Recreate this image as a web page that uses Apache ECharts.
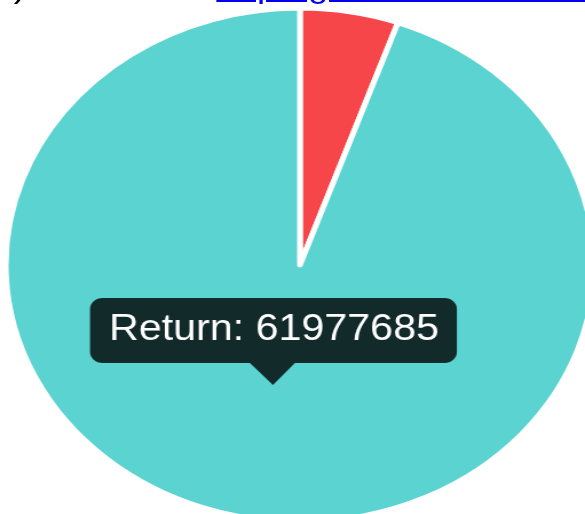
<!DOCTYPE html>
<html>
<head>
<meta charset="utf-8">
<script src="https://cdn.jsdelivr.net/npm/echarts@6/dist/echarts.min.js"></script>
<style>
  html, body { margin: 0; padding: 0; background: #fff; overflow: hidden; }
  #wrap { position: absolute; left: 0; top: 0; width: 511px; height: 514px;
          transform: scaleX(1.1448); transform-origin: 0 0; }
  #chart { position: absolute; left: 0; top: 0; width: 511px; height: 514px; }
  .top { position: absolute; top: -30px; font: 32px 'Liberation Sans', Arial, sans-serif;
         line-height: 32px; white-space: nowrap; color: #000; }
  .top a { color: #0000ee; text-decoration: underline; }
</style>
</head>
<body>
<div id="wrap">
  <div id="chart"></div>
  <div class="top" style="left:12px">)</div>
  <div class="top" style="left:167px">&lt;</div>
  <div class="top" style="left:189px"><a href="#">http://github.com/nnnick/Chart.js</a></div>
</div>
<script>
const categories = ['Investment', 'Return'];
const values = [3540000, 61977685];
const colors = ['#F7464A', '#5AD3D1'];
const tooltipIndex = 1;

const chart = echarts.init(document.getElementById('chart'), null, { renderer: 'canvas' });
const tipText = categories[tooltipIndex] + ': ' + values[tooltipIndex];

chart.setOption({
  animation: false,
  backgroundColor: '#fff',
  series: [{
    type: 'pie',
    center: [262, 265],
    radius: [0, 257],
    startAngle: 90,
    clockwise: true,
    label: { show: false },
    labelLine: { show: false },
    emphasis: { disabled: true },
    itemStyle: { borderColor: '#fff', borderWidth: 5 },
    data: categories.map((c, i) => ({ name: c, value: values[i], itemStyle: { color: colors[i] } }))
  }],
  graphic: [
    {
      type: 'rect', z: 100,
      shape: { x: 78.6, y: 298, width: 320.5, height: 65, r: 11 },
      style: { fill: 'rgba(0,0,0,0.8)' }
    },
    {
      type: 'polygon', z: 100,
      shape: { points: [[218.3, 363], [257.6, 363], [238.4, 385]] },
      style: { fill: 'rgba(0,0,0,0.8)' }
    },
    {
      type: 'text', z: 101, x: 95.2, y: 330,
      style: { text: tipText, fill: '#fff', font: '36px "Liberation Sans", Arial, sans-serif',
               textAlign: 'left', textVerticalAlign: 'middle' }
    }
  ]
});
</script>
</body>
</html>
